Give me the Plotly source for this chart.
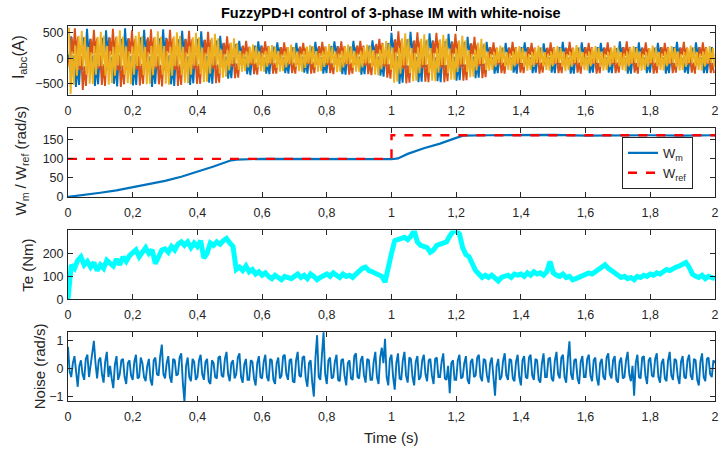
import numpy as np
import plotly.graph_objects as go
from plotly.subplots import make_subplots

# ---------------- data ----------------
ia = [0, 90, 430, -250, 60, -560, -150, -520, 40, -230, 410, 90,
      580, 70, 380, -210, 60, -540, -120, -510, 50, -230, 400, 100,
      550, 90, 410, -240, 30, -500, -140, -550, 60, -200, 380, 70,
      590, 80, 390, -220, 50, -530, -110, -520, 40, -240, 410, 90,
      560, 100, 370, -200, 40, -560, -150, -500, 30, -210, 390, 80,
      570, 60, 400, -230, 60, -510, -130, -540, 50, -220, 370, 100,
      540, 90, 380, -210, 40, -520, -120, -490, 60, -200, 380, 70,
      530, 80, 360, -200, 50, -480, -110, -500, 40, -190, 350, 80,
      440, 70, 300, -160, 30, -400, -100, -390, 20, -150, 280, 60,
      340, 60, 230, -120, 30, -310, -80, -330, 20, -130, 250, 50,
      330, 70, 250, -140, 10, -300, -90, -310, 30, -120, 230, 60,
      310, 50, 220, -120, 20, -290, -80, -300, 20, -110, 220, 50,
      300, 60, 210, -130, 30, -280, -70, -300, 10, -120, 230, 60,
      320, 50, 220, -110, 20, -300, -90, -290, 30, -130, 240, 70,
      330, 70, 240, -130, 10, -310, -80, -320, 20, -120, 230, 50,
      340, 60, 230, -140, 30, -320, -90, -310, 20, -130, 250, 60,
      350, 70, 250, -150, 30, -340, -110, -360, 40, -160, 300, 80,
      500, 90, 360, -200, 40, -500, -140, -480, 30, -200, 370, 90,
      520, 80, 340, -190, 30, -470, -120, -460, 40, -180, 350, 80,
      490, 90, 350, -180, 20, -450, -130, -470, 30, -190, 340, 90,
      480, 80, 330, -190, 30, -440, -120, -430, 30, -170, 320, 70,
      420, 70, 290, -160, 30, -390, -100, -380, 30, -150, 270, 60,
      320, 60, 220, -120, 20, -300, -80, -290, 10, -110, 210, 50,
      300, 50, 210, -110, 10, -280, -90, -300, 20, -120, 220, 60,
      310, 60, 220, -120, 20, -290, -80, -280, 10, -110, 210, 60,
      290, 50, 200, -110, 20, -280, -80, -290, 20, -120, 220, 50,
      320, 60, 210, -120, 10, -300, -90, -300, 20, -110, 210, 60,
      310, 50, 220, -110, 20, -290, -80, -280, 10, -120, 220, 50,
      300, 60, 210, -120, 20, -280, -90, -290, 20, -110, 200, 60,
      330, 60, 220, -110, 10, -300, -80, -300, 20, -120, 220, 50,
      310, 50, 210, -120, 20, -290, -90, -280, 10, -110, 210, 60,
      300, 60, 220, -110, 20, -300, -80, -290, 20, -120, 220, 50,
      320, 50, 210, -120, 10, -280, -90, -300, 20, -110, 210, 60,
      310, 60, 220, -110, 20, -290, -80, -290, 10, -120, 220, 50]

ib = [0, -240, 410, 90, 590, 70, 420, -230, 40, -620, -150, -540,
      50, -210, 380, 80, 560, 100, 390, -210, 60, -520, -120, -540,
      40, -230, 400, 70, 580, 80, 410, -240, 30, -560, -140, -510,
      60, -220, 390, 90, 550, 90, 380, -220, 50, -530, -110, -500,
      30, -200, 410, 80, 570, 70, 400, -200, 40, -510, -130, -550,
      50, -240, 380, 100, 560, 90, 390, -230, 60, -540, -120, -520,
      40, -210, 370, 80, 540, 80, 370, -210, 50, -500, -110, -500,
      50, -200, 360, 70, 520, 80, 360, -200, 40, -490, -120, -480,
      30, -160, 300, 70, 430, 60, 290, -160, 20, -390, -100, -380,
      20, -120, 250, 60, 340, 50, 230, -130, 30, -310, -80, -320,
      30, -130, 230, 70, 330, 60, 240, -120, 20, -300, -90, -300,
      20, -110, 220, 50, 310, 50, 220, -120, 10, -290, -80, -300,
      10, -120, 230, 60, 300, 60, 210, -110, 20, -300, -70, -290,
      20, -130, 240, 50, 320, 70, 230, -130, 30, -290, -90, -310,
      30, -120, 230, 60, 330, 50, 240, -120, 20, -320, -80, -300,
      20, -130, 250, 70, 340, 60, 250, -140, 30, -310, -90, -330,
      30, -150, 280, 80, 380, 80, 300, -170, 30, -380, -110, -400,
      40, -200, 370, 90, 530, 90, 360, -200, 30, -490, -140, -480,
      30, -180, 350, 80, 510, 80, 340, -190, 40, -460, -120, -470,
      30, -190, 340, 90, 500, 90, 350, -180, 30, -470, -130, -450,
      20, -170, 320, 80, 480, 70, 330, -180, 30, -440, -120, -430,
      30, -160, 290, 70, 420, 60, 280, -150, 20, -390, -100, -370,
      20, -110, 220, 60, 310, 50, 210, -120, 10, -290, -80, -300,
      10, -120, 210, 50, 320, 60, 220, -110, 20, -280, -90, -290,
      20, -110, 220, 60, 300, 50, 210, -120, 20, -300, -80, -280,
      10, -120, 210, 50, 310, 60, 220, -110, 10, -290, -90, -290,
      20, -110, 200, 60, 320, 50, 210, -120, 20, -280, -80, -300,
      20, -120, 220, 50, 300, 60, 220, -110, 10, -300, -90, -290,
      10, -110, 210, 60, 310, 50, 210, -120, 20, -290, -80, -280,
      20, -120, 220, 50, 330, 60, 220, -110, 20, -280, -90, -300,
      10, -110, 210, 60, 310, 50, 200, -120, 10, -300, -80, -290,
      20, -120, 220, 50, 300, 60, 220, -110, 20, -290, -90, -280,
      10, -110, 210, 60, 320, 50, 210, -120, 20, -280, -80, -300,
      20, -120, 220, 50, 310, 60, 220, -110, 10, -290, -90, -290]

ic = [600, -700, 130, -520, 250, -340, 440, -150, 540, -170, 420, -320,
      220, -500, 120, -510, 240, -320, 420, -160, 520, -150, 440, -340,
      240, -520, 140, -490, 220, -340, 430, -140, 550, -160, 420, -320,
      230, -490, 130, -510, 230, -320, 440, -150, 520, -150, 430, -330,
      220, -510, 120, -500, 240, -330, 420, -160, 530, -140, 420, -320,
      240, -500, 140, -520, 220, -340, 430, -150, 510, -160, 440, -330,
      220, -480, 120, -490, 230, -320, 410, -140, 500, -150, 410, -310,
      210, -470, 110, -460, 220, -300, 400, -140, 480, -140, 390, -300,
      170, -380, 90, -360, 160, -240, 310, -110, 390, -100, 300, -230,
      140, -260, 90, -250, 130, -180, 220, -100, 270, -110, 230, -180,
      130, -250, 100, -260, 140, -170, 230, -100, 260, -100, 220, -190,
      140, -260, 80, -250, 130, -180, 220, -110, 270, -100, 220, -170,
      130, -250, 90, -260, 140, -190, 230, -100, 260, -110, 230, -180,
      140, -260, 100, -250, 130, -170, 220, -100, 280, -100, 220, -180,
      130, -270, 90, -260, 140, -180, 230, -110, 270, -110, 230, -190,
      140, -260, 90, -270, 130, -180, 220, -100, 270, -100, 240, -180,
      160, -320, 100, -330, 160, -220, 280, -120, 340, -120, 290, -230,
      210, -480, 120, -460, 200, -300, 390, -140, 490, -140, 380, -290,
      200, -450, 110, -440, 210, -290, 380, -130, 470, -130, 370, -280,
      200, -440, 110, -450, 190, -280, 370, -130, 460, -140, 380, -290,
      190, -420, 100, -420, 190, -270, 350, -120, 440, -120, 350, -270,
      160, -370, 90, -360, 160, -240, 310, -110, 380, -110, 300, -230,
      130, -240, 80, -230, 120, -170, 200, -90, 250, -100, 210, -160,
      120, -230, 90, -240, 130, -160, 210, -100, 240, -90, 200, -170,
      130, -240, 80, -230, 120, -170, 200, -90, 250, -100, 210, -160,
      120, -230, 90, -240, 130, -160, 210, -100, 240, -90, 200, -170,
      130, -250, 80, -230, 120, -170, 200, -90, 260, -100, 210, -160,
      120, -230, 90, -240, 130, -160, 210, -100, 240, -90, 200, -170,
      130, -240, 80, -230, 120, -170, 200, -90, 250, -100, 210, -160,
      120, -230, 90, -250, 130, -160, 210, -100, 240, -90, 200, -170,
      130, -240, 80, -230, 120, -170, 200, -90, 250, -100, 210, -160,
      120, -230, 90, -240, 130, -160, 210, -100, 240, -90, 200, -170,
      130, -240, 80, -230, 120, -170, 200, -90, 250, -100, 210, -160,
      120, -230, 90, -240, 130, -160, 210, -100, 240, -90, 200, -170]

wm_t = [0, 0.05, 0.1, 0.15, 0.2, 0.25, 0.3, 0.35, 0.4, 0.45, 0.5, 0.52, 0.6, 0.7,
        0.8, 0.9, 1.0, 1.02, 1.05, 1.1, 1.15, 1.2, 1.22, 1.3, 1.4, 1.5, 1.6, 1.7,
        1.8, 1.9, 2.0]
wm = [0, 5, 11, 17, 25, 33, 42, 53, 66, 80, 95, 98, 100, 100, 99, 99, 99, 101,
      113, 128, 140, 155, 161, 162, 162, 163, 161, 162, 162, 161, 162]
wref_t = [0, 1.0, 1.0, 2.0]
wref = [100, 100, 162, 162]

te = [0, 150, 135, 170, 185, 150, 165, 140, 160, 125,
      150, 135, 170, 160, 145, 175, 150, 185, 165, 190,
      200, 215, 185, 210, 225, 200, 215, 155, 190, 215,
      220, 205, 230, 215, 240, 250, 235, 250, 225, 245,
      230, 255, 180, 200, 245, 235, 250, 240, 255, 265,
      245, 230, 130, 140, 125, 145, 120, 130, 110, 120,
      105, 115, 100, 90, 105, 95, 85, 100, 95, 90,
      100, 110, 95, 105, 90, 110, 100, 85, 95, 105,
      110, 100, 115, 105, 95, 110, 100, 105, 95, 110,
      125, 135, 140, 125, 120, 115, 105, 100, 75, 150,
      200, 255, 260, 265, 270, 260, 275, 300, 250, 235,
      230, 225, 205, 215, 235, 240, 245, 250, 275, 295,
      300, 285, 225, 195, 185, 150, 125, 110, 95, 105,
      95, 105, 90, 80, 95, 100, 105, 95, 110, 105,
      110, 100, 115, 105, 120, 110, 115, 105, 120, 165,
      115, 105, 100, 110, 95, 100, 85, 90, 95, 100,
      105, 115, 110, 120, 130, 140, 150, 135, 125, 115,
      105, 95, 100, 90, 95, 85, 100, 95, 105, 100,
      110, 105, 115, 110, 120, 130, 125, 135, 140, 145,
      150, 160, 140, 110, 100, 95, 105, 90, 100, 95,
      90]

noise = [0.78, -0.1, -0.3, 0.2, 0.45, -0.25, -0.65, 0.1, 0.3, -0.2, -0.4, 0.35, 0.5, -0.3, 0.15, 0.4, 1.0, 0.2, -0.35, 0.3,
         0.4, -0.2, -0.5, 0.25, 0.6, -0.3, 0.1, -0.35, -0.7, 0.15, 0.45, -0.4, -0.2, 0.3, 0.35, -0.3, -0.55, 0.2, 0.3, -0.25,
         -0.4, 0.25, 0.5, -0.35, -0.3, 0.4, 0.2, -0.3, -0.45, 0.1, 0.35, -0.4, -0.6, 0.3, 0.4, -0.2, -0.25, 0.45, 0.86, -0.2,
         -0.35, 0.2, 0.45, -0.3, -0.5, 0.35, 0.3, -0.25, -0.2, 0.4, 0.55, -0.5, -1.19, 0.1, 0.4, -0.3, -0.45, 0.35, 0.25, -0.4,
         -0.3, 0.3, 0.5, -0.2, -0.4, 0.25, 0.35, -0.45, -0.55, 0.3, 0.2, -0.3, -0.35, 0.4, 0.45, -0.25, -0.3, 0.35, 0.6, -0.2,
         -0.45, 0.2, 0.3, -0.35, -0.2, 0.4, 0.55, -0.3, -0.5, 0.15, 0.35, -0.4, -0.4, 0.3, 0.25, -0.35, -0.6, 0.2, 0.45, -0.3,
         -0.35, 0.25, 0.5, -0.3, -0.45, 0.35, 0.3, -0.4, -0.55, 0.2, 0.4, -0.35, -0.25, 0.45, 0.5, -0.2, -0.4, 0.3, 0.35, -0.45,
         -0.5, 0.3, 0.6, -0.25, -0.3, 0.4, 0.45, -0.35, -0.65, 0.2, 0.3, -0.5, -1.0, 0.4, 1.2, -0.3, -0.4, 0.5, 1.3, -0.2,
         -0.55, 0.3, 0.4, -0.35, -0.3, 0.25, 0.5, -0.4, -0.45, 0.3, 0.35, -0.25, -0.6, 0.2, 0.3, -0.35, -0.4, 0.45, 0.55, -0.3,
         -0.35, 0.3, 0.45, -0.25, -0.5, 0.35, 0.3, -0.4, -0.4, 0.25, 0.6, -0.3, -0.55, 0.4, 0.75, 0.2, 1.07, -0.3, -0.6, 0.35,
         0.5, -0.3, -0.75, 0.2, 0.55, -0.35, -0.4, 0.3, 0.6, -0.25, -0.5, 0.4, 0.35, -0.3, -0.6, 0.25, 0.45, -0.4, -0.3, 0.3,
         0.5, -0.2, -0.45, 0.3, 0.35, -0.25, -0.55, 0.35, 0.4, -0.3, -0.3, 0.25, 0.55, -0.35, -0.4, 0.1, -0.88, 0.2, 0.3, -0.4,
         -0.4, 0.3, 0.5, -0.35, -0.3, 0.2, 0.45, -0.4, -0.55, 0.25, 0.35, -0.3, -0.25, 0.4, 0.5, -0.3, -0.45, 0.35, 0.3, -0.25,
         -0.5, 0.2, 0.4, -0.3, -0.97, 0.1, 0.35, -0.4, -0.3, 0.3, 0.55, -0.25, -0.4, 0.35, 0.3, -0.35, -0.45, 0.25, 0.5, -0.3,
         -0.6, 0.3, 0.45, -0.3, -0.35, 0.4, 0.5, -0.25, -0.4, 0.35, 0.3, -0.4, -0.5, 0.2, 0.55, -0.3, -0.3, 0.35, 0.4, -0.35,
         -0.45, 0.3, 0.6, -0.2, -0.35, 0.4, 0.5, -0.3, -0.5, 0.35, 0.98, -0.2, -0.4, 0.3, 0.35, -0.35, -0.55, 0.25, 0.45, -0.3,
         -0.3, 0.35, 0.5, -0.25, -0.45, 0.3, 0.4, -0.35, -0.6, 0.2, 0.35, -0.3, -0.4, 0.4, 0.55, -0.2, -0.35, 0.3, 0.45, -0.4,
         -0.5, 0.25, 0.4, -0.35, -0.3, 0.3, 0.6, -0.2, -0.45, 0.1, -0.97, 0.2, 0.5, -0.3, -0.35, 0.4, 0.45, -0.25, -0.55, 0.3,
         0.4, -0.25, -0.3, 0.35, 0.55, -0.3, -0.5, 0.2, 0.35, -0.35, -0.45, 0.3, 0.6, -0.25, -0.4, 0.35, 0.3, -0.3, -0.55, 0.25,
         0.45, -0.3, -0.35, 0.3, 0.5, -0.25, -0.4, 0.35, 0.3, -0.4, -0.6, 0.25, 0.55, -0.3, -0.45, 0.35, 0.4, -0.2, -0.3, 0.3,
         0.2]

x_tickvals = [0, 0.2, 0.4, 0.6, 0.8, 1.0, 1.2, 1.4, 1.6, 1.8, 2.0]
x_ticktext = ["0", "0,2", "0,4", "0,6", "0,8", "1", "1,2", "1,4", "1,6", "1,8", "2"]

# ---------------- figure ----------------
W, H = 719, 455
ML, MR = 68, 4
PW = W - ML - MR
FONT = "Liberation Sans, Arial, sans-serif"
AX = "#262626"

fig = make_subplots(rows=4, cols=1)

# the three phases are sampled on interleaved instants (one third of a step apart)
n_i = len(ia)
step = 2.0 / n_i
t_a = np.arange(n_i) * step
t_b = t_a + step / 3
t_c = t_a + 2 * step / 3
fig.add_trace(go.Scatter(x=t_a, y=ia, mode="lines", line=dict(color="#0072BD", width=1.9), showlegend=False), 1, 1)
fig.add_trace(go.Scatter(x=t_b, y=ib, mode="lines", line=dict(color="#D95319", width=1.9), showlegend=False), 1, 1)
fig.add_trace(go.Scatter(x=t_c, y=ic, mode="lines", line=dict(color="#EDB120", width=1.9), showlegend=False), 1, 1)

fig.add_trace(go.Scatter(x=wm_t, y=wm, mode="lines", name="W<sub>m</sub>",
                         line=dict(color="#0072BD", width=2.2)), 2, 1)
fig.add_trace(go.Scatter(x=wref_t, y=wref, mode="lines", name="W<sub>ref</sub>",
                         line=dict(color="#FF0000", width=2.4, dash="dash")), 2, 1)

fig.add_trace(go.Scatter(x=np.linspace(0, 2, len(te)), y=te, mode="lines",
                         line=dict(color="#00FFFF", width=5), showlegend=False), 3, 1)
fig.add_trace(go.Scatter(x=np.linspace(0, 2, len(noise)), y=noise, mode="lines",
                         line=dict(color="#0072BD", width=1.9), showlegend=False), 4, 1)

def ydom(top_px, bot_px):
    return [1 - bot_px / H, 1 - top_px / H]

doms = [ydom(26.3, 96), ydom(130, 200), ydom(234, 304), ydom(337.3, 407.3)]
yranges = [[-710, 635], [0, 181], [0, 300], [-1.16, 1.31]]
yticks = [[-500, 0, 500], [0, 50, 100, 150], [0, 100, 200], [-1, 0, 1]]

common = dict(showline=True, linecolor=AX, linewidth=1, mirror="ticks", ticks="inside",
              ticklen=5, tickcolor=AX, tickwidth=1, showgrid=False, zeroline=False,
              tickfont=dict(family=FONT, size=12.5, color=AX))
for i in range(4):
    n = "" if i == 0 else str(i + 1)
    fig.layout["xaxis" + n].update(range=[0, 2], tickvals=x_tickvals, ticktext=x_ticktext,
                                   domain=[0, 1], ticklabelstandoff=4, **common)
    fig.layout["yaxis" + n].update(range=yranges[i], tickvals=yticks[i], domain=doms[i],
                                   ticklabelstandoff=1, **common)

def px(p):
    return (p - ML) / PW

ann = [
    dict(text="<b>FuzzyPD+I control of 3-phase IM with white-noise</b>", x=px(391), y=1 - 13 / H,
         font=dict(size=14.5, color="#000000")),
    dict(text="I<sub>abc</sub>(A)", x=px(19), y=1 - 58 / H, textangle=-90, font=dict(size=16, color=AX)),
    dict(text="W<sub>m</sub> / W<sub>ref</sub> (rad/s)", x=px(21), y=1 - 164 / H, textangle=-90,
         font=dict(size=15, color=AX)),
    dict(text="Te (Nm)", x=px(28), y=1 - 270 / H, textangle=-90, font=dict(size=15, color=AX)),
    dict(text="Noise (rad/s)", x=px(39), y=1 - 372 / H, textangle=-90, font=dict(size=15, color=AX)),
    dict(text="Time (s)", x=px(391), y=1 - 444 / H, font=dict(size=15, color=AX)),
]
for a in ann:
    a.update(xref="paper", yref="paper", showarrow=False, xanchor="center", yanchor="middle")
    a["font"]["family"] = FONT

fig.update_layout(
    width=W, height=H, margin=dict(l=ML, r=MR, t=0, b=0),
    paper_bgcolor="white", plot_bgcolor="white",
    font=dict(family=FONT, color=AX),
    annotations=ann,
    legend=dict(x=px(622), y=1 - 139 / H, xanchor="left", yanchor="top",
                bordercolor=AX, borderwidth=1, bgcolor="white",
                font=dict(family=FONT, size=13, color=AX), tracegroupgap=0),
)

fig.write_html("out.html")
